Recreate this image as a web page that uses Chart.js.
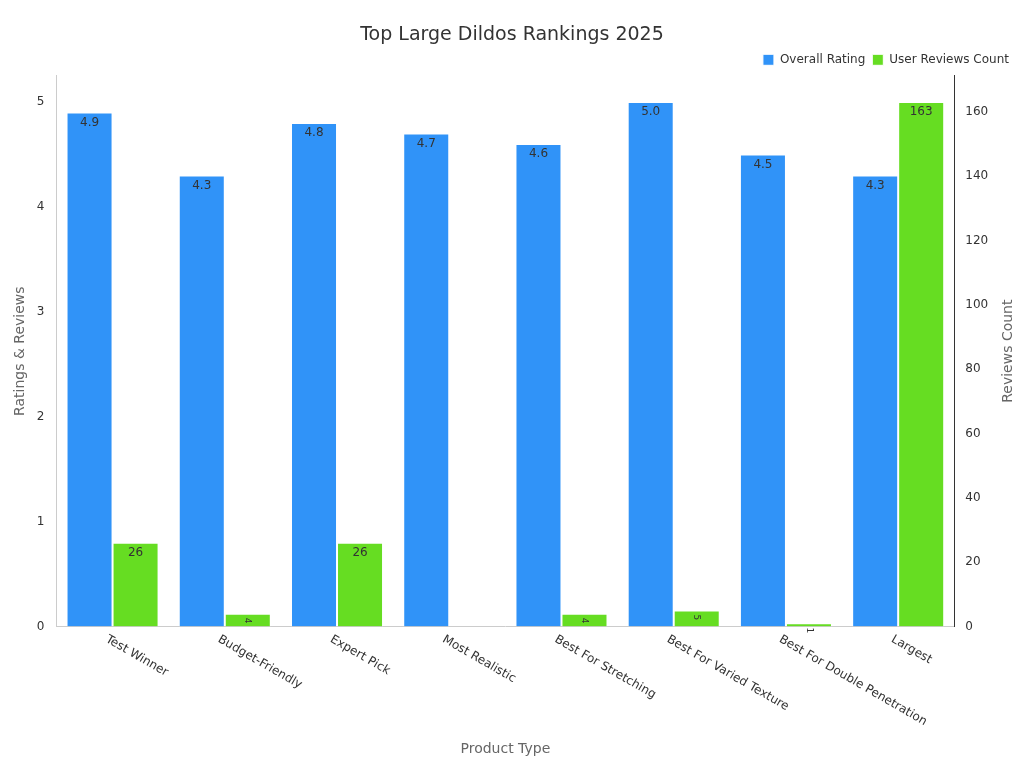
<!DOCTYPE html>
<html>
<head>
<meta charset="utf-8">
<script src="https://cdn.jsdelivr.net/npm/chart.js@4/dist/chart.umd.min.js"></script>
<style>
  html, body { margin: 0; padding: 0; background: #fff; }
  #wrap { width: 1024px; height: 768px; }
</style>
</head>
<body>
<div id="wrap"><canvas id="chart" width="1024" height="768"></canvas></div>
<script>
const categories = ['Test Winner', 'Budget-Friendly', 'Expert Pick', 'Most Realistic',
  'Best For Stretching', 'Best For Varied Texture', 'Best For Double Penetration', 'Largest'];
const ratings = [4.9, 4.3, 4.8, 4.7, 4.6, 5.0, 4.5, 4.3];
const reviewCounts = [26, 4, 26, null, 4, 5, 1, 163];

// labels drawn just inside the top of each bar, plus the rotated x labels and right title
const barLabels = {
  id: 'barLabels',
  afterDatasetsDraw(chart) {
    const ctx = chart.ctx;
    ctx.save();
    ctx.font = '12px "DejaVu Sans"';
    ctx.fillStyle = '#333';
    ctx.textAlign = 'center';
    ctx.textBaseline = 'middle';
    chart.data.datasets.forEach((ds, i) => {
      chart.getDatasetMeta(i).data.forEach((bar, j) => {
        const v = ds.data[j];
        if (v === null || v === undefined) return;
        const text = i === 0 ? v.toFixed(1) : String(v);
        const h = bar.base - bar.y;
        if (h < 20) {
          ctx.save();
          ctx.translate(bar.x, bar.y + 7);
          ctx.rotate(Math.PI / 2);
          ctx.font = '9px "DejaVu Sans"';
          ctx.fillText(text, 0, 0);
          ctx.restore();
        } else {
          ctx.fillText(text, bar.x, bar.y + 10);
        }
      });
    });

    // x tick labels, rotated clockwise
    const xs = chart.scales.x;
    ctx.font = '12px "DejaVu Sans"';
    ctx.textAlign = 'left';
    ctx.textBaseline = 'middle';
    categories.forEach((c, k) => {
      ctx.save();
      ctx.translate(xs.getPixelForTick(k) - 6, xs.top + 12);
      ctx.rotate(Math.PI / 6);
      ctx.fillText(c, 0, 0);
      ctx.restore();
    });

    // right axis title, reading upward
    const r = chart.scales.y1;
    ctx.save();
    ctx.translate(1008, (r.top + r.bottom) / 2);
    ctx.rotate(-Math.PI / 2);
    ctx.textAlign = 'center';
    ctx.font = '14px "DejaVu Sans"';
    ctx.fillStyle = '#666';
    ctx.fillText('Reviews Count', 0, 0);
    ctx.restore();
    ctx.restore();
  }
};

new Chart(document.getElementById('chart'), {
  type: 'bar',
  data: {
    labels: categories,
    datasets: [
      { label: 'Overall Rating', data: ratings, yAxisID: 'y',
        backgroundColor: '#3093F8', borderColor: '#ffffff', borderWidth: 1 },
      { label: 'User Reviews Count', data: reviewCounts, yAxisID: 'y1',
        backgroundColor: '#66DD22', borderColor: '#ffffff', borderWidth: 1 }
    ]
  },
  options: {
    responsive: false,
    animation: false,
    layout: { padding: { left: 8, right: 8, top: 14, bottom: 6 } },
    datasets: { bar: { categoryPercentage: 0.82, barPercentage: 1.0 } },
    plugins: {
      title: { display: true, text: 'Top Large Dildos Rankings 2025',
        font: { family: 'DejaVu Sans', size: 19, weight: 'normal' }, color: '#333', padding: { top: 10, bottom: 0 } },
      legend: { position: 'top', align: 'end',
        labels: { boxWidth: 11, boxHeight: 11, font: { family: 'DejaVu Sans', size: 12 }, color: '#333', padding: 7 } },
      tooltip: { enabled: false }
    },
    scales: {
      x: {
        grid: { display: false },
        border: { color: '#ccc' },
        ticks: { maxRotation: 30, minRotation: 30, font: { family: 'DejaVu Sans', size: 12 }, color: 'rgba(0,0,0,0)' },
        title: { display: true, text: 'Product Type', font: { family: 'DejaVu Sans', size: 14 }, color: '#666' }
      },
      y: {
        position: 'left', min: 0, max: 5.25,
        grid: { display: false },
        border: { color: '#ccc' },
        ticks: { stepSize: 1, font: { family: 'DejaVu Sans', size: 12 }, color: '#333', padding: 4,
          callback: v => Number.isInteger(v) ? v : '' },
        title: { display: true, text: 'Ratings & Reviews', font: { family: 'DejaVu Sans', size: 14 }, color: '#666' }
      },
      y1: {
        position: 'right', min: 0, max: 171.15,
        grid: { display: false },
        border: { color: '#333' },
        ticks: { stepSize: 20, font: { family: 'DejaVu Sans', size: 12 }, color: '#333',
          callback: v => v % 20 === 0 ? v : '' },
        title: { display: true, text: 'Reviews Count', font: { family: 'DejaVu Sans', size: 14 }, color: 'rgba(0,0,0,0)' }
      }
    }
  },
  plugins: [barLabels]
});
</script>
</body>
</html>
